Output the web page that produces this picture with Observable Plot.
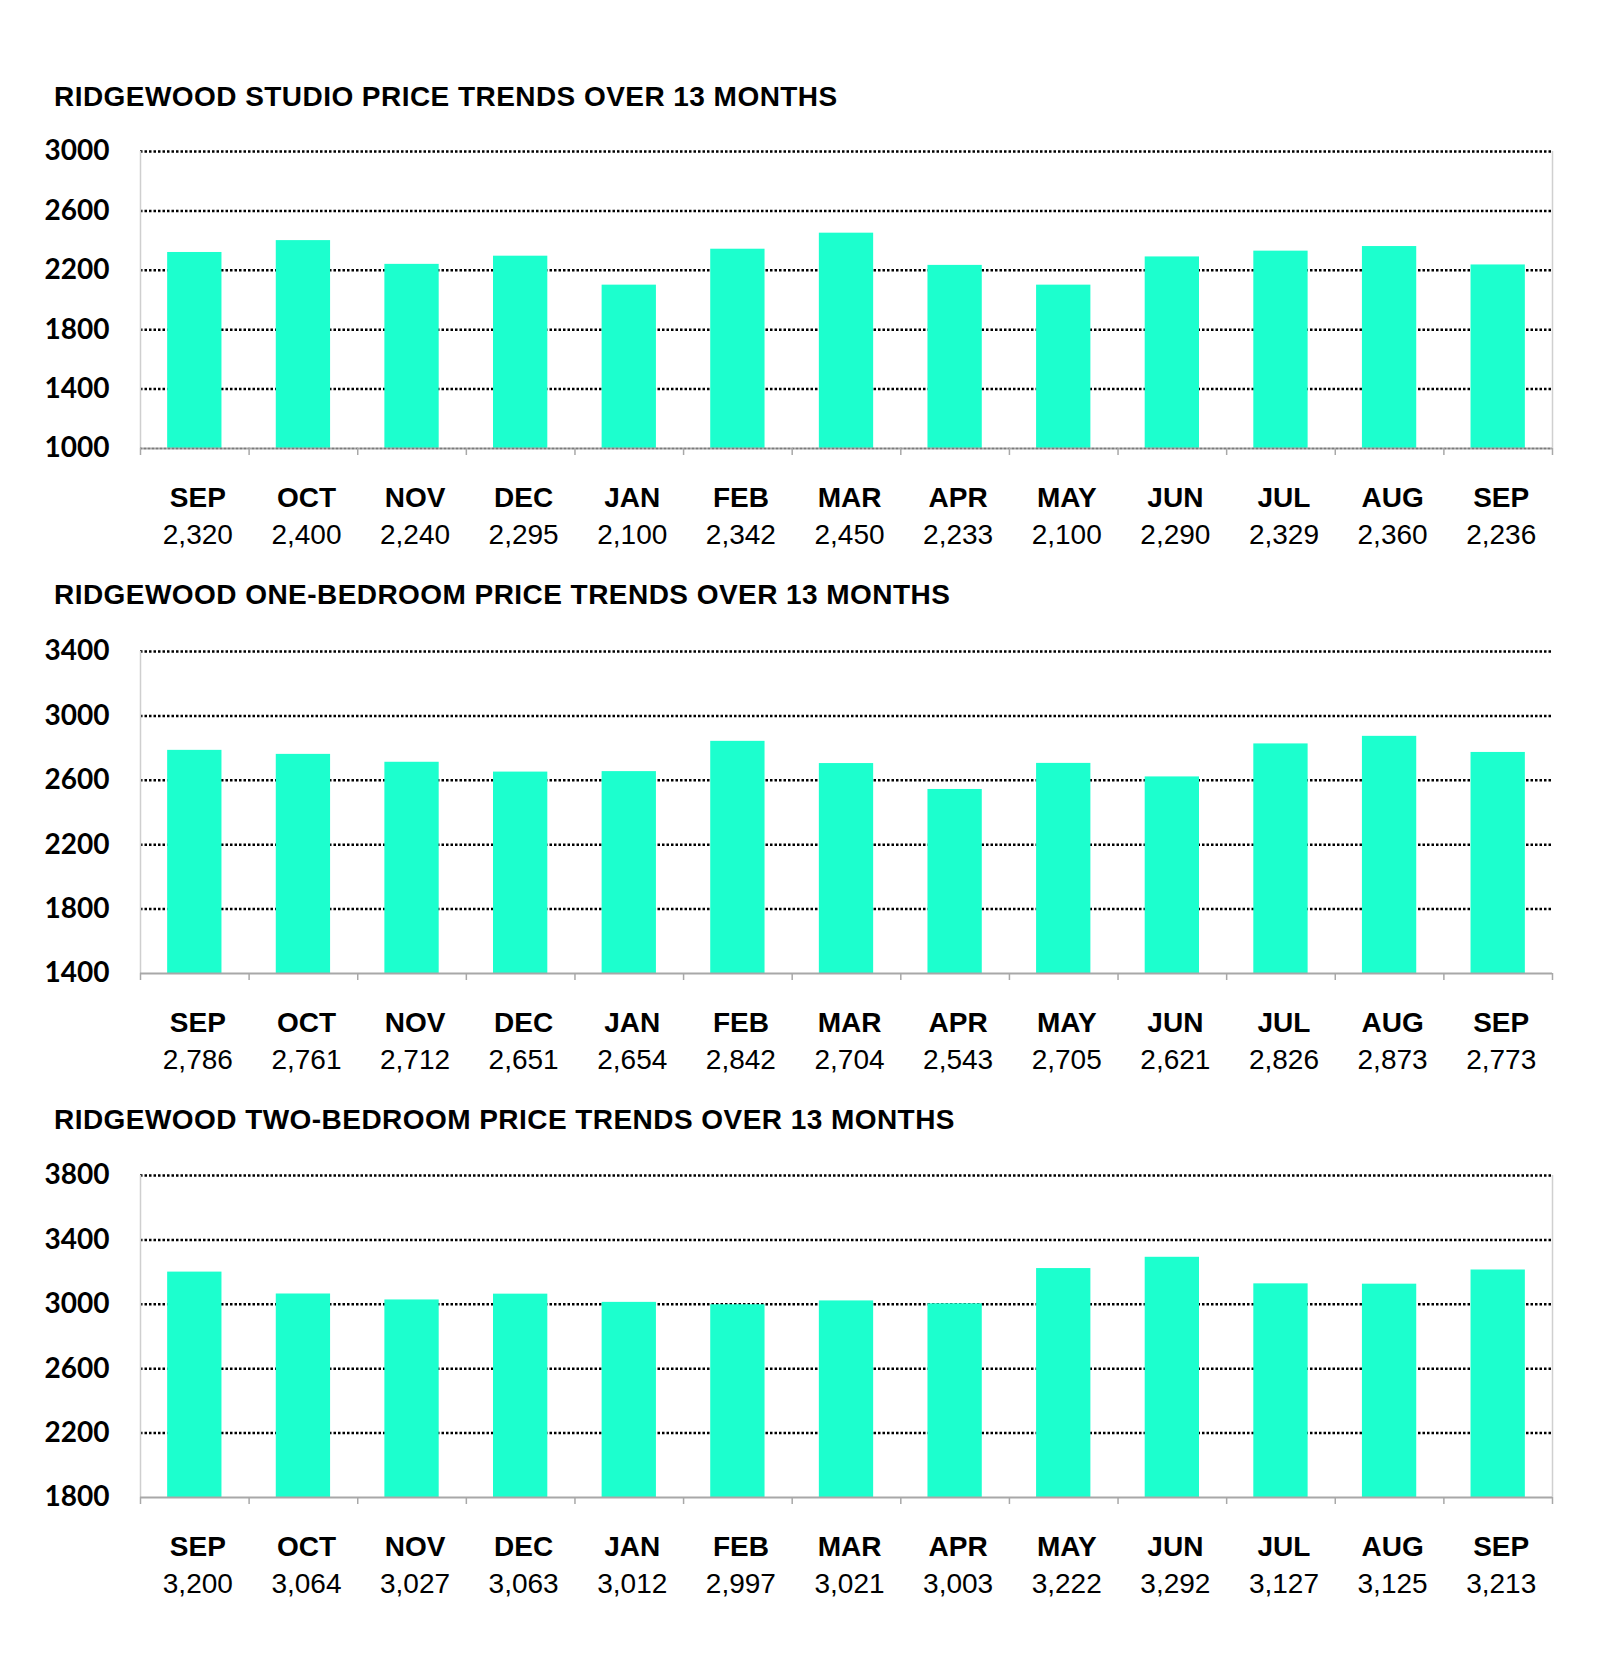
<!DOCTYPE html>
<html><head><meta charset="utf-8">
<script src="https://cdn.jsdelivr.net/npm/d3@7"></script>
<script src="https://cdn.jsdelivr.net/npm/@observablehq/plot@0.6"></script>
<style>
body{margin:0;background:#fff;}
#root{position:relative;width:1600px;height:1667px;background:#fff;}
.title{position:absolute;left:54px;font-family:"Liberation Sans",Arial,sans-serif;font-weight:bold;font-size:28px;line-height:28px;letter-spacing:0.45px;color:#000;white-space:nowrap;}
.chart{position:absolute;left:0;}
</style></head><body><div id="root"></div>
<script>
const months = ["SEP","OCT","NOV","DEC","JAN","FEB","MAR","APR","MAY","JUN","JUL","AUG","SEP"];
const studioValues = [2320,2400,2240,2295,2100,2342,2450,2233,2100,2290,2329,2360,2236];
const oneBedValues = [2786,2761,2712,2651,2654,2842,2704,2543,2705,2621,2826,2873,2773];
const twoBedValues = [3200,3064,3027,3063,3012,2997,3021,3003,3222,3292,3127,3125,3213];
const studioTicks = [1000,1400,1800,2200,2600,3000];
const oneBedTicks = [1400,1800,2200,2600,3000,3400];
const twoBedTicks = [1800,2200,2600,3000,3400,3800];
const titles = [
  "RIDGEWOOD STUDIO PRICE TRENDS OVER 13 MONTHS",
  "RIDGEWOOD ONE-BEDROOM PRICE TRENDS OVER 13 MONTHS",
  "RIDGEWOOD TWO-BEDROOM PRICE TRENDS OVER 13 MONTHS"
];

const charts = [
  {title: titles[0], values: studioValues, ticks: studioTicks, titleTop: 83, svgTop: 130, marginTop: 21, plotHeight: 297, dottedBase: true, rightLine: true},
  {title: titles[1], values: oneBedValues, ticks: oneBedTicks, titleTop: 581, svgTop: 630, marginTop: 21, plotHeight: 322, dottedBase: false, rightLine: false},
  {title: titles[2], values: twoBedValues, ticks: twoBedTicks, titleTop: 1106, svgTop: 1153, marginTop: 22, plotHeight: 322, dottedBase: false, rightLine: true}
];

const fmt = d3.format(",");
const root = document.getElementById("root");

function makeChart(cfg){
  const data = cfg.values.map((v,i)=>({i, month: months[i], value: v}));
  const ymin = d3.min(cfg.ticks), ymax = d3.max(cfg.ticks);
  const idx = d3.range(months.length);
  const bounds = idx.map(i=>i-0.5).concat([months.length-0.5]);
  const marginBottom = 112;
  const marks = [
    Plot.gridY(cfg.ticks.filter(t=>t>ymin), {stroke:"#000", strokeOpacity:1, strokeWidth:2.5, strokeDasharray:"2.5,2"}),
    Plot.ruleX([bounds[0]], {y1: ()=>ymin, y2: ()=>ymax, stroke:"#cfcfcf", strokeWidth:1.5})
  ];
  if (cfg.rightLine) marks.push(Plot.ruleX([bounds[bounds.length-1]], {y1: ()=>ymin, y2: ()=>ymax, stroke:"#d0d0d0", strokeWidth:1.5}));
  marks.push(
    Plot.rect(data, {x1: d=>d.i-0.25, x2: d=>d.i+0.25, y1: ()=>ymin, y2: "value", fill:"#1cffce"}),
    Plot.ruleY([ymin], {stroke:"#a8a8a8", strokeWidth:2})
  );
  if (cfg.dottedBase) marks.push(Plot.ruleY([ymin], {stroke:"#7a7a7a", strokeWidth:1.5, strokeDasharray:"2,2"}));
  marks.push(
    Plot.axisX({ticks: bounds, tickSize:7, tickFormat: ()=>"", stroke:"#a8a8a8", strokeWidth:1.5, label: null}),
    Plot.axisX({ticks: idx, tickSize:0, tickPadding:39, dx:3, tickFormat: i=>months[i], fontSize:28, fontWeight:"bold", fontFamily:"'Liberation Sans', Arial, sans-serif", fill:"#000", label: null}),
    Plot.axisX({ticks: idx, tickSize:0, tickPadding:76, dx:3, tickFormat: i=>fmt(cfg.values[i]), fontSize:28, fontFamily:"'Liberation Sans', Arial, sans-serif", fill:"#000", label: null}),
    Plot.axisY({ticks: cfg.ticks, tickSize:0, tickPadding:31, tickFormat: d=>String(d), fontSize:28, fontWeight:"bold", fontFamily:"Lato, 'Open Sans', sans-serif", fill:"#000", label: null})
  );
  return Plot.plot({
    width:1600,
    height: cfg.marginTop + cfg.plotHeight + marginBottom,
    marginLeft:140, marginRight:48, marginTop: cfg.marginTop, marginBottom,
    style:{background:"transparent", overflow:"visible"},
    x:{type:"linear", domain:[bounds[0], bounds[bounds.length-1]], label: null},
    y:{domain:[ymin, ymax], label: null},
    marks
  });
}

for (const cfg of charts){
  const t = document.createElement("div");
  t.className = "title";
  t.style.top = cfg.titleTop + "px";
  t.textContent = cfg.title;
  root.appendChild(t);
  const svg = makeChart(cfg);
  svg.classList.add("chart");
  svg.style.top = cfg.svgTop + "px";
  root.appendChild(svg);
}
</script>
</body></html>
